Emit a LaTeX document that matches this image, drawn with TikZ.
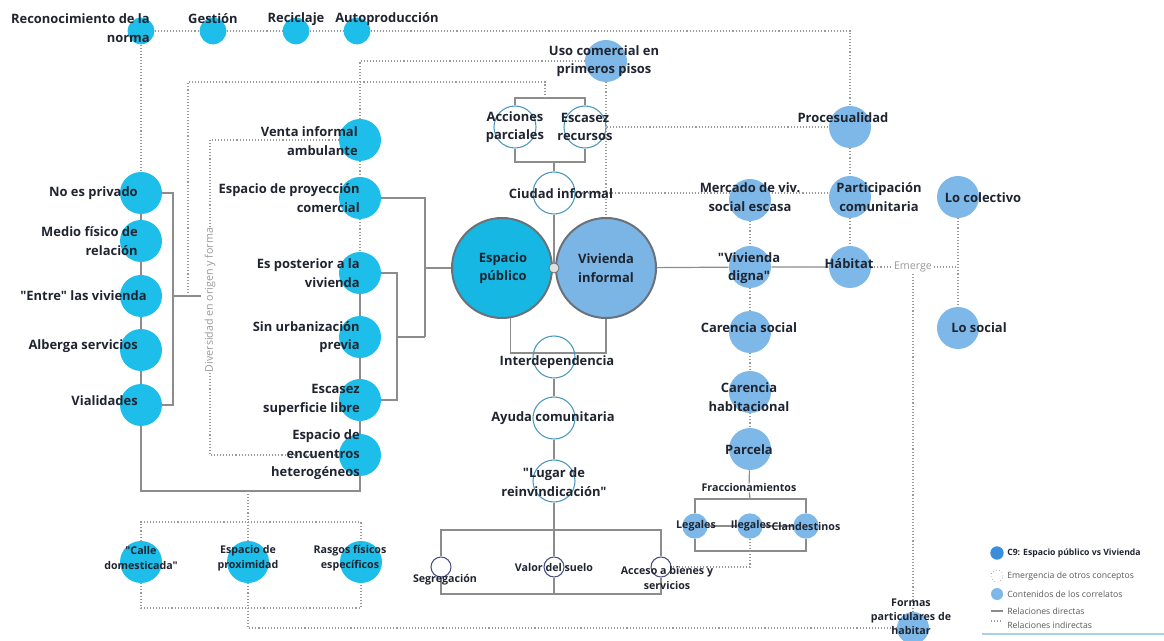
\documentclass[tikz,border=0pt]{standalone}
\usepackage{fontspec}
\setmainfont{Open Sans}[Ligatures=TeXOff]
\usetikzlibrary{backgrounds}

\definecolor{cyanc}{HTML}{1DBEE9}
\definecolor{lblue}{HTML}{7DB8E8}
\definecolor{epc}{HTML}{16B7E2}
\definecolor{vic}{HTML}{7AB5E6}
\definecolor{rimc}{HTML}{6B7178}
\definecolor{tealc}{HTML}{4A98BE}
\definecolor{navyc}{HTML}{4B4F85}
\definecolor{linec}{HTML}{8C8C8C}
\definecolor{dotc}{HTML}{9A9A9A}
\definecolor{txtc}{HTML}{1F2430}
\definecolor{legc}{HTML}{3B8EDB}
\definecolor{legl}{HTML}{A9CFEA}

\tikzset{
	cy/.style={circle, fill=cyanc, inner sep=0pt, minimum size=31.5pt},
	cys/.style={cy, minimum size=20pt},
	lb/.style={circle, fill=lblue, inner sep=0pt, minimum size=31.5pt},
	lbs/.style={lb, minimum size=19pt},
	op/.style={circle, draw=tealc, line width=0.8pt, inner sep=0pt, minimum size=31.5pt},
	ops/.style={circle, draw=navyc, line width=0.8pt, inner sep=0pt, minimum size=15pt},
	big/.style={circle, draw=rimc, line width=1.5pt, inner sep=0pt, minimum size=75pt},
	dir/.style={draw=linec, line width=0.9pt},
	ind/.style={draw=dotc, line width=0.9pt, dash pattern=on 0.8pt off 1.5pt},
	tx/.style={font=\fontsize{9.7}{13.8}\selectfont\bfseries, text=txtc, inner sep=0pt, align=center},
	txr/.style={tx, align=right, anchor=east},
	txm/.style={tx, font=\fontsize{8}{11.5}\selectfont\bfseries},
	gr/.style={font=\fontsize{8}{9}\selectfont, text=dotc, inner sep=1pt, fill=white},
	leg/.style={font=\fontsize{6.5}{7}\selectfont, text=black!65, anchor=west, inner sep=0pt}
}

\begin{document}
\begin{tikzpicture}[x=0.75pt, y=-0.75pt]
	\useasboundingbox (0,0) rectangle (1164,641);

	\node[cys] (rec) at (141,31) {};
	\node[cys] (ges) at (213,31) {};
	\node[cys] (reci) at (296,31) {};
	\node[cys] (aut) at (357,31) {};

	\node[cy] (noes) at (141,193) {};
	\node[cy] (medio) at (141,241) {};
	\node[cy] (entre) at (141,296) {};
	\node[cy] (alb) at (141,350) {};
	\node[cy] (vial) at (141,405) {};

	\node[cy] (venta) at (360,140) {};
	\node[cy] (proy) at (360,198) {};
	\node[cy] (post) at (360,273) {};
	\node[cy] (sinu) at (360,337) {};
	\node[cy] (escs) at (360,400) {};
	\node[cy] (enc) at (360,455) {};

	\node[cy] (calle) at (141,562) {};
	\node[cy] (prox) at (248,562) {};
	\node[cy] (rasg) at (361,562) {};

	\node[big, fill=epc] (ep) at (502,268) {};
	\node[big, fill=vic] (vi) at (606,268) {};
	\node[circle, fill=black!12, draw=rimc, line width=0.6pt, minimum size=7.5pt, inner sep=0pt] (jn) at (554,268) {};

	\node[op] (acc) at (515,127) {};
	\node[op] (escr) at (585,127) {};
	\node[op] (ciu) at (554,193) {};
	\node[op] (inter) at (554,357) {};
	\node[op] (ayu) at (554,418) {};
	\node[op] (lug) at (554,481) {};
	\node[ops] (seg) at (441,567) {};
	\node[ops] (val) at (554,567) {};
	\node[ops] (acb) at (661,567) {};

	\node[lb] (uso) at (606,61) {};
	\node[lb] (mer) at (750,200) {};
	\node[lb] (vdig) at (750,267) {};
	\node[lb] (cars) at (750,332) {};
	\node[lb] (carh) at (750,392) {};
	\node[lb] (parc) at (750,449) {};
	\node[lbs] (leg) at (695,526) {};
	\node[lbs] (ileg) at (750,526) {};
	\node[lbs] (clan) at (806,526) {};
	\node[lb] (proc) at (850,127) {};
	\node[lb] (part) at (850,197) {};
	\node[lb] (hab) at (850,267) {};
	\node[lb] (lcol) at (958,197) {};
	\node[lb] (lsoc) at (958,328) {};
	\node[lb, minimum size=24pt] (fp) at (913,628) {};

	\coordinate (lbr) at (173,296);
	\coordinate (lst) at (201,296);
	\coordinate (dv) at (188,296);
	\coordinate (dt) at (545,82);
	\coordinate (at) at (545,98);
	\coordinate (ab) at (554,162);
	\coordinate (ib) at (397,337);
	\coordinate (ob) at (425,337);
	\coordinate (oj) at (425,268);
	\coordinate (bb) at (248,491);
	\coordinate (rt) at (248,522);
	\coordinate (rb) at (248,608);
	\coordinate (dd) at (210,300);
	\coordinate (ij) at (554,353);
	\coordinate (lj) at (554,530);
	\coordinate (lk) at (554,594);
	\coordinate (ft) at (750,499);
	\coordinate (fb) at (750,551);
	\coordinate (ej) at (958,267);

	\node[txr] (rec-t) at (150,28) {Reconocimiento de la\\norma};
	\node[tx] (ges-t) at (213,19) {Gestión};
	\node[tx] (reci-t) at (296,19) {Reciclaje};
	\node[tx, anchor=west] (aut-t) at (335,19) {Autoproducción};
	\node[tx] (uso-t) at (604,61) {Uso comercial en\\primeros pisos};
	\node[txr] (venta-t) at (358,141) {Venta informal\\ambulante};
	\node[txr] (proy-t) at (360,198) {Espacio de proyección\\comercial};
	\node[txr] (post-t) at (360,273) {Es posterior a la\\vivienda};
	\node[txr] (sinu-t) at (360,337) {Sin urbanización\\previa};
	\node[txr] (escs-t) at (360,400) {Escasez\\superficie libre};
	\node[txr] (enc-t) at (360,455) {Espacio de\\encuentros\\heterogéneos};
	\node[txr] (noes-t) at (138,193) {No es privado};
	\node[txr] (medio-t) at (138,241) {Medio físico de\\relación};
	\node[txr] (entre-t) at (147,296) {"Entre" las vivienda};
	\node[txr] (alb-t) at (138,346) {Alberga servicios};
	\node[txr] (vial-t) at (138,401) {Vialidades};
	\node[txm] (calle-t) at (141,558) {"Calle\\domesticada"};
	\node[txm] (prox-t) at (248,558) {Espacio de\\proximidad};
	\node[txm] (rasg-t) at (350,558) {Rasgos físicos\\específicos};
	\node[tx] (acc-t) at (515,127) {Acciones\\parciales};
	\node[tx] (escr-t) at (585,127) {Escasez\\recursos};
	\node[tx] (ciu-t) at (561,194) {Ciudad informal};
	\node[tx] (ep-t) at (503,268) {Espacio\\público};
	\node[tx] (vi-t) at (606,268) {Vivienda\\informal};
	\node[tx] (inter-t) at (557,362) {Interdependencia};
	\node[tx] (ayu-t) at (553,418) {Ayuda comunitaria};
	\node[tx] (lug-t) at (554,482) {"Lugar de\\reinvindicación"};
	\node[txm] (seg-t) at (445,580) {Segregación};
	\node[txm] (val-t) at (554,567) {Valor del suelo};
	\node[txm] (acb-t) at (667,578) {Acceso a bienes y\\servicios};
	\node[tx] (mer-t) at (750,197) {Mercado de viv.\\social escasa};
	\node[tx] (vdig-t) at (749,268) {"Vivienda\\digna"};
	\node[tx] (cars-t) at (749,328) {Carencia social};
	\node[tx] (carh-t) at (749,397) {Carencia\\habitacional};
	\node[tx] (parc-t) at (749,450) {Parcela};
	\node[txm] (fra) at (749,488) {Fraccionamientos};
	\node[txm] (leg-t) at (696,526) {Legales};
	\node[txm] (ileg-t) at (751,526) {Ilegales};
	\node[txm] (clan-t) at (806,526) {Clandestinos};
	\node[tx] (proc-t) at (843,118) {Procesualidad};
	\node[tx] (part-t) at (879,197) {Participación\\comunitaria};
	\node[tx] (hab-t) at (849,264) {Hábitat};
	\node[tx] (lcol-t) at (983,198) {Lo colectivo};
	\node[tx] (lsoc-t) at (979,328) {Lo social};
	\node[txm, font=\fontsize{8}{10.5}\selectfont\bfseries] (fp-t) at (911,617) {Formas\\particulares de\\habitar};
	\node[gr] (em) at (913,267) {Emerge};
	\node[gr, rotate=90] (div) at (210,300) {Diversidad en origen y forma};

	\begin{scope}[on background layer]
		\draw[dir] (noes) -- (medio) -- (entre) -- (alb) -- (vial);
		\draw[dir] (noes) -| (lbr) |- (vial);
		\draw[dir] (lbr) -- (lst);
		\draw[dir] (post) -- (sinu) -- (escs) -- (enc);
		\draw[dir] (post) -| (ib) |- (escs);
		\draw[dir] (ib) -- (ob);
		\draw[dir] (proy) -| (ob);
		\draw[dir] (oj) -- (ep);
		\draw[dir] (vial) |- (bb) -| (enc);
		\draw[dir] (ep.-80) |- (ij) -| (vi);
		\draw[dir] (inter) -- (ayu) -- (lug);
		\draw[dir] (jn) -- (ciu);
		\draw[dir] (acc) |- (at) -| (escr);
		\draw[dir] (acc) |- (ab) -| (escr);
		\draw[dir] (ab) -- (ciu);
		\draw[dir] (vi) -- (vdig) -- (hab);
		\draw[dir] (parc) -- (fra);
		\draw[dir] (fra) -- (ft);
		\draw[dir] (leg) |- (ft) -| (clan);
		\draw[dir] (leg) |- (fb) -| (clan);
		\draw[dir] (leg) -- (ileg) -- (clan);
		\draw[dir] (lug) -- (lj) -- (val);
		\draw[dir] (seg) |- (lj) -| (acb);
		\draw[dir] (seg) |- (lk) -| (acb);
		\draw[dir] (val) -- (lk);

		\draw[ind] (rec) -- (ges) -- (reci) -- (aut) -| (proc);
		\draw[ind] (rec) -- (noes);
		\draw[ind] (venta) |- (uso);
		\draw[ind] (venta) -- (proy) -- (post);
		\draw[ind] (venta) -| (dd) |- (enc);
		\draw[ind] (dv) |- (dt) -- (at);
		\draw[ind] (uso) -- (vi);
		\draw[ind] (escr) -- (proc);
		\draw[ind] (ciu) -- (ciu -| part);
		\draw[ind] (proc) -- (part) -- (hab);
		\draw[ind] (mer) -- (vdig) -- (cars) -- (carh) -- (parc);
		\draw[ind] (hab) -- (em) -- (ej);
		\draw[ind] (lcol) -- (lsoc);
		\draw[ind] (em) -- (fp);
		\draw[ind] (ileg) |- (acb);
		\draw[ind] (bb) -- (prox) |- (fp);
		\draw[ind] (calle) |- (rt) -| (rasg);
		\draw[ind] (calle) |- (rb) -| (rasg);
	\end{scope}

	\node[circle, fill=legc, inner sep=0pt, minimum size=10pt] (l1) at (997,553) {};
	\node[circle, draw=black!60, dotted, inner sep=0pt, minimum size=9pt] (l2) at (997,576) {};
	\node[circle, fill=lblue, inner sep=0pt, minimum size=9pt] (l3) at (997,594) {};
	\coordinate (l4a) at (991,611);
	\coordinate (l4b) at (1003,611);
	\coordinate (l5a) at (991,621);
	\coordinate (l5b) at (1003,621);
	\coordinate (l6a) at (982,634);
	\coordinate (l6b) at (1164,634);
	\draw[dir] (l4a) -- (l4b);
	\draw[ind] (l5a) -- (l5b);
	\draw[legl, line width=1pt] (l6a) -- (l6b);
	\node[leg, font=\fontsize{6.5}{7}\selectfont\bfseries, text=txtc] (l1-t) at (1007,553) {C9: Espacio público vs Vivienda};
	\node[leg] (l2-t) at (1007,576) {Emergencia de otros conceptos};
	\node[leg] (l3-t) at (1007,594) {Contenidos de los correlatos};
	\node[leg] (l4-t) at (1007,611) {Relaciones directas};
	\node[leg] (l5-t) at (1007,625) {Relaciones indirectas};
\end{tikzpicture}
\end{document}
